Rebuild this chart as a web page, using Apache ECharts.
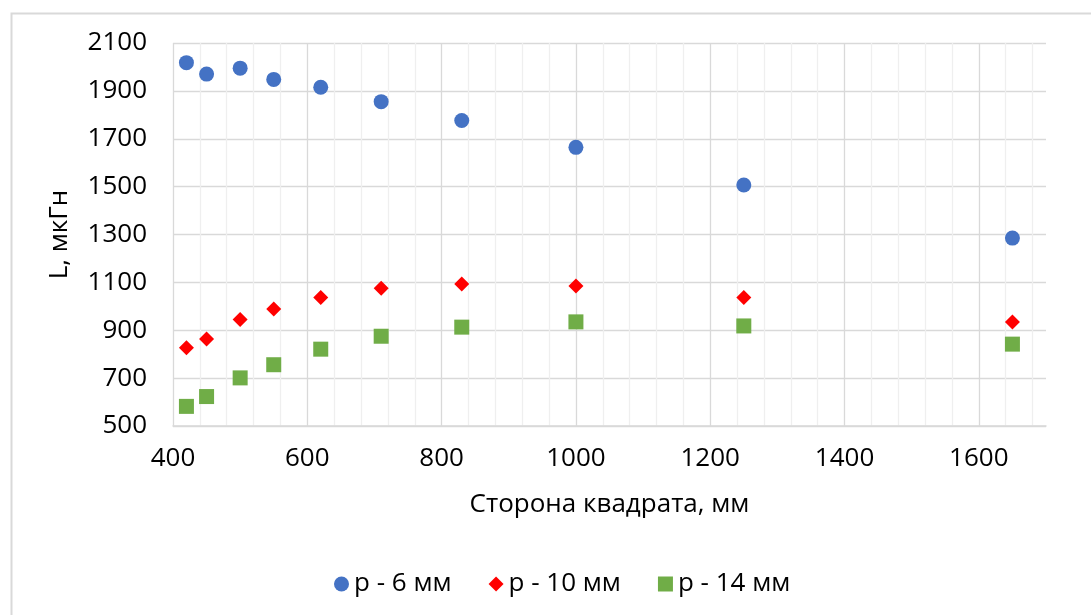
<!DOCTYPE html>
<html>
<head>
<meta charset="utf-8">
<script src="https://cdn.jsdelivr.net/npm/echarts@6/dist/echarts.min.js"></script>
<style>
html,body{margin:0;padding:0;background:#fff;}
#chart{width:1091px;height:615px;}
</style>
</head>
<body>
<div id="chart"></div>
<script>
const sides = [420, 450, 500, 550, 620, 710, 830, 1000, 1250, 1650];
const p6 = [2018, 1970, 1995, 1948, 1915, 1855, 1776, 1664, 1507, 1285];
const p10 = [827, 863, 945, 989, 1037, 1075, 1093, 1085, 1037, 934];
const p14 = [582, 623, 701, 756, 821, 875, 913, 935, 918, 842];
const seriesNames = ['р - 6 мм', 'р - 10 мм', 'р - 14 мм'];
const xTitle = 'Сторона квадрата, мм';
const yTitle = 'L, мкГн';

const FONT = 'Open Sans';
const FS = 26;
const chart = echarts.init(document.getElementById('chart'));
const pairs = arr => sides.map((x, i) => [x, arr[i]]);

chart.setOption({
  animation: false,
  textStyle: { fontFamily: FONT, color: '#000' },
  graphic: [{
    type: 'rect', left: 9, top: 11, silent: true,
    shape: { width: 1200, height: 800 },
    style: { fill: 'none', stroke: '#d9d9d9', lineWidth: 2 }
  }],
  grid: { left: 173, right: 45, top: 43, bottom: 189, containLabel: false },
  xAxis: {
    type: 'value', min: 400, max: 1700, interval: 40,
    name: xTitle, nameLocation: 'middle', nameGap: 66,
    nameTextStyle: { fontFamily: FONT, fontSize: FS, color: '#000' },
    axisLine: { show: true, lineStyle: { color: '#d9d9d9', width: 1.5 } },
    axisTick: { show: false },
    axisLabel: {
      fontFamily: FONT, fontSize: FS, color: '#000', margin: 20,
      showMaxLabel: false,
      formatter: v => (v % 200 === 0 ? String(v) : '')
    },
    splitLine: {
      show: true, showMaxLine: false,
      lineStyle: { color: ['#d9d9d9', '#efefef', '#efefef', '#efefef', '#efefef'], width: 1.3 }
    }
  },
  yAxis: {
    type: 'value', min: 500, max: 2100, interval: 200,
    name: yTitle, nameLocation: 'middle', nameGap: 100, nameRotate: 90,
    nameTextStyle: { fontFamily: FONT, fontSize: FS, color: '#000' },
    axisLine: { show: false },
    axisTick: { show: false },
    axisLabel: { fontFamily: FONT, fontSize: FS, color: '#000', margin: 26, formatter: v => String(v) },
    splitLine: { show: true, lineStyle: { color: '#d9d9d9', width: 1.3 } }
  },
  legend: {
    bottom: 13, left: 329,
    itemWidth: 15, itemHeight: 15, itemGap: 37,
    textStyle: { fontFamily: FONT, fontSize: FS, color: '#000' },
    data: [
      { name: seriesNames[0], icon: 'circle' },
      { name: seriesNames[1], icon: 'diamond' },
      { name: seriesNames[2], icon: 'rect' }
    ]
  },
  series: [
    { name: seriesNames[0], type: 'scatter', symbol: 'circle', symbolSize: 15,
      itemStyle: { color: '#4472C4', opacity: 1 }, data: pairs(p6) },
    { name: seriesNames[1], type: 'scatter', symbol: 'diamond', symbolSize: 15,
      itemStyle: { color: '#FF0000', opacity: 1 }, data: pairs(p10) },
    { name: seriesNames[2], type: 'scatter', symbol: 'rect', symbolSize: 15,
      itemStyle: { color: '#70AD47', opacity: 1 }, data: pairs(p14) }
  ]
});
</script>
</body>
</html>
